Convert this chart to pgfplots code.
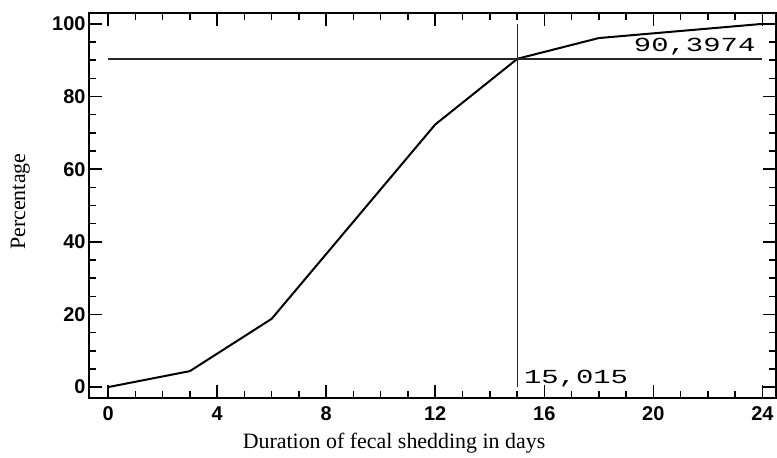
\documentclass[border=0pt]{standalone}
\usepackage{pgfplots}
\pgfplotsset{compat=1.18}
\usepackage{fontspec}
\setmainfont{Liberation Serif}
\setsansfont{Liberation Sans}
\newfontfamily\lcdfont[FakeStretch=1.45]{Liberation Mono}

\begin{document}
\begin{tikzpicture}
\begin{axis}[
  scale only axis,
  width=687bp, height=385bp,
  xmin=-0.7, xmax=24.5,
  ymin=-3, ymax=103,
  xtick={0,4,...,24}, minor x tick num=3,
  ytick={0,20,...,100}, minor y tick num=3,
  tick align=inside,
  major tick length=13bp, minor tick length=7bp,
  axis line style={line width=2.2pt},
  every tick/.style={black, line width=1.5pt},
  /pgf/number format/assume math mode=true,
  ticklabel style={font=\sffamily\bfseries\fontsize{20}{20}\selectfont},
  xticklabel style={yshift=-5bp},
  xlabel={Duration of fecal shedding in days},
  ylabel={Percentage},
  label style={font=\fontsize{22}{22}\selectfont},
  xlabel style={at={(axis description cs:0.444,-0.130)}, anchor=base},
  ylabel style={at={(axis description cs:-0.093,0.51)}, anchor=base},
  clip=false,
]
% cumulative percentage curve
\addplot[black, line width=2bp] coordinates {
  (0,0) (3,4.4) (6,18.8) (12,72.3) (15.015,90.4) (18,96.1) (24,100)
};
% 90 % reference lines
\addplot[black!85, line width=1.6bp] coordinates {(0,90.3974) (24,90.3974)};
\addplot[black!85, line width=1.6bp] coordinates {(15.015,0) (15.015,100)};
\node[anchor=south east, inner sep=0pt, font=\lcdfont\fontsize{20}{20}\selectfont]
  at (axis cs:23.75,91.4) {90,3974};
\node[anchor=south west, inner sep=0pt, font=\lcdfont\fontsize{20}{20}\selectfont]
  at (axis cs:15.25,0.0) {15,015};
\coordinate (ll) at (rel axis cs:0,0);
\coordinate (ur) at (rel axis cs:1,1);
\end{axis}
\pgfresetboundingbox
\path ([xshift=-89bp,yshift=-60bp]ll) rectangle ([xshift=1bp,yshift=13bp]ur);
\end{tikzpicture}
\end{document}
